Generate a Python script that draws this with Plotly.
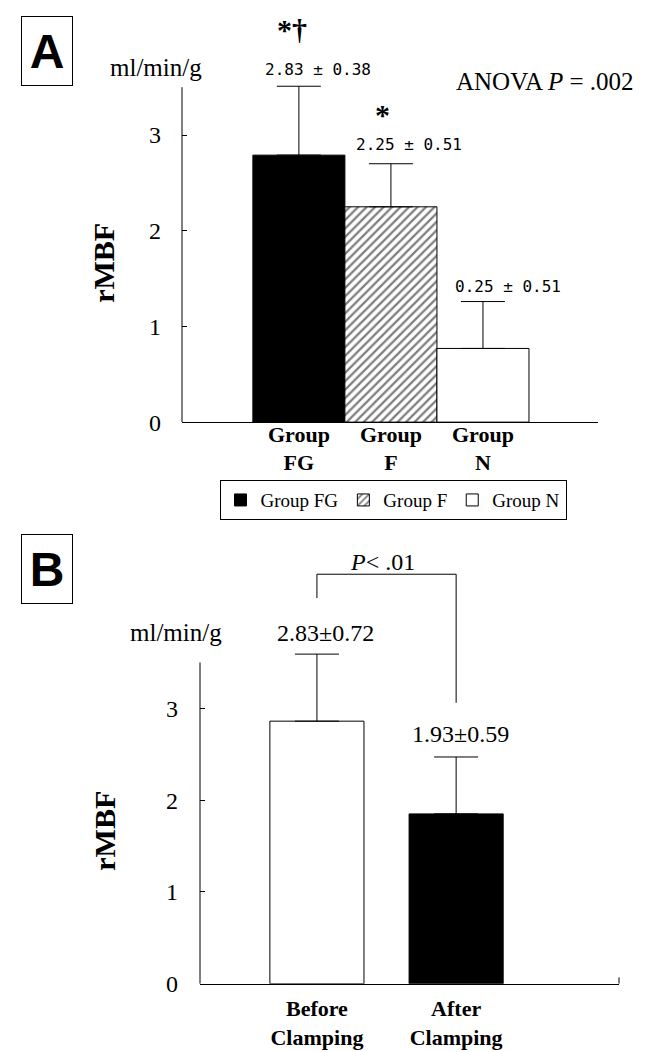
import plotly.graph_objects as go

# ---------------- data ----------------
groups_a = ["Group FG", "Group F", "Group N"]
ticks_a = ["Group<br>FG", "Group<br>F", "Group<br>N"]
mean_a = [2.79, 2.25, 0.77]
err_a = [0.72, 0.45, 0.49]
labels_a = ["2.83 ± 0.38", "2.25 ± 0.51", "0.25 ± 0.51"]
sig_a = ["*†", "*", ""]

cats_b = ["Before Clamping", "After Clamping"]
ticks_b = ["Before<br>Clamping", "After<br>Clamping"]
mean_b = [2.86, 1.85]
err_b = [0.73, 0.62]
labels_b = ["2.83±0.72", "1.93±0.59"]

yticks = [0, 1, 2, 3]

SERIF = "Liberation Serif"
W, H = 646, 1052

fig = go.Figure()

# ---------------- panel A ----------------
styles_a = [
    dict(color="black", pattern=dict(shape="")),
    dict(color="white", pattern=dict(shape="/", fgcolor="black", bgcolor="white", size=6, solidity=0.38)),
    dict(color="white", pattern=dict(shape="")),
]
xa = list(range(len(groups_a)))
for i, g in enumerate(groups_a):
    st = styles_a[i]
    fig.add_trace(go.Bar(
        x=[xa[i]], y=[mean_a[i]], name=g, width=1.0,
        marker=dict(color=st["color"], pattern=st["pattern"], line=dict(color="black", width=1)),
        error_y=dict(type="data", symmetric=False, array=[err_a[i]], arrayminus=[0],
                     color="black", thickness=1, width=22),
        xaxis="x", yaxis="y", showlegend=True,
    ))

# ---------------- panel B ----------------
xb = list(range(len(cats_b)))
fig.add_trace(go.Bar(
    x=xb, y=mean_b, width=0.676, name="B",
    marker=dict(color=["white", "black"], line=dict(color="black", width=1)),
    error_y=dict(type="data", symmetric=False, array=err_b, arrayminus=[0, 0],
                 color="black", thickness=1, width=22),
    xaxis="x2", yaxis="y2", showlegend=False,
))

axis_common = dict(showgrid=False, zeroline=False, color="black")

fig.update_layout(
    width=W, height=H, autosize=False,
    margin=dict(l=0, r=0, t=0, b=0),
    paper_bgcolor="white", plot_bgcolor="white",
    barmode="overlay",
    xaxis=dict(domain=[174 / W, 590 / W], range=[-1.27, 3.25], anchor="y",
               tickvals=xa, ticktext=ticks_a, ticks="", showline=True, linecolor="black", linewidth=1,
               tickfont=dict(family=SERIF, size=22, color="black", weight="bold"),
               ticklabelstandoff=-8, **axis_common),
    yaxis=dict(domain=[1 - 419.3 / H, 1 - 70.5 / H], range=[0, 3.6], anchor="x",
               tickvals=yticks, ticks="inside", ticklen=5, tickcolor="black", tickwidth=1,
               showline=False, tickfont=dict(family=SERIF, size=24, color="black"),
               ticklabelstandoff=20, **axis_common),
    xaxis2=dict(domain=[192 / W, 611 / W], range=[-0.84, 2.17], anchor="y2",
                tickvals=xb, ticktext=ticks_b, ticks="", showline=True, linecolor="black", linewidth=1,
                tickfont=dict(family=SERIF, size=22, color="black", weight="bold"),
                ticklabelstandoff=5, **axis_common),
    yaxis2=dict(domain=[1 - 988 / H, 1 - 551 / H], range=[0, 4.7], anchor="x2",
                tickvals=yticks, ticks="inside", ticklen=5, tickcolor="black", tickwidth=1,
                showline=False, tickfont=dict(family=SERIF, size=24, color="black"),
                ticklabelstandoff=21, **axis_common),
    legend=dict(orientation="h", x=385 / W, xanchor="center", y=1 - 478 / H, yanchor="top",
                bordercolor="black", borderwidth=1, bgcolor="white",
                font=dict(family=SERIF, size=19, color="black"), traceorder="normal",
                itemwidth=30),
    showlegend=True,
)

shapes = [
    # y axis lines (end at 3.5)
    dict(type="line", xref="x domain", yref="y", x0=0, x1=0, y0=0, y1=3.5, line=dict(color="black", width=1)),
    dict(type="line", xref="x2 domain", yref="y2", x0=0, x1=0, y0=0, y1=3.5, line=dict(color="black", width=1)),
    # small end tick on B x axis
    dict(type="line", xref="x2 domain", yref="y2", x0=1, x1=1, y0=0, y1=0.07, line=dict(color="black", width=1)),
    # significance bracket in B
    dict(type="line", xref="x2", yref="y2", x0=0, x1=0, y0=4.20, y1=4.46, line=dict(color="black", width=1)),
    dict(type="line", xref="x2", yref="y2", x0=0, x1=1, y0=4.46, y1=4.46, line=dict(color="black", width=1)),
    dict(type="line", xref="x2", yref="y2", x0=1, x1=1, y0=3.06, y1=4.46, line=dict(color="black", width=1)),
]
fig.update_layout(shapes=shapes)

ann = []
# panel letters
for letter, cy in (("A", 44), ("B", 568)):
    ann.append(dict(text=letter, xref="paper", yref="paper", x=39 / W, y=1 - cy / H,
                    showarrow=False, xanchor="center", yanchor="middle",
                    font=dict(family="Liberation Sans", size=48, color="black", weight="bold"),
                    bordercolor="black", borderwidth=1, borderpad=1, width=48, height=66))
# units
ann.append(dict(text="ml/min/g", xref="paper", yref="paper", x=148 / W, y=1 - 60 / H, showarrow=False,
                xanchor="center", yanchor="middle", font=dict(family=SERIF, size=25, color="black")))
ann.append(dict(text="ml/min/g", xref="paper", yref="paper", x=168 / W, y=1 - 632 / H, showarrow=False,
                xanchor="center", yanchor="middle", font=dict(family=SERIF, size=25, color="black")))
# ANOVA
ann.append(dict(text="ANOVA <i>P</i> = .002", xref="paper", yref="paper", x=537 / W, y=1 - 74 / H,
                showarrow=False, xanchor="center", yanchor="middle",
                font=dict(family=SERIF, size=25, color="black")))
# y titles
ann.append(dict(text="<b>rMBF</b>", xref="paper", yref="paper", x=96 / W, y=1 - 258 / H, textangle=-90,
                showarrow=False, xanchor="center", yanchor="middle",
                font=dict(family=SERIF, size=30, color="black")))
ann.append(dict(text="<b>rMBF</b>", xref="paper", yref="paper", x=97 / W, y=1 - 833 / H, textangle=-90,
                showarrow=False, xanchor="center", yanchor="middle",
                font=dict(family=SERIF, size=30, color="black")))
# value labels A
shifts_a = [(19, 17), (18, 19), (25, 15)]
for i in range(len(groups_a)):
    ann.append(dict(text=labels_a[i], xref="x", yref="y", x=xa[i], y=mean_a[i] + err_a[i],
                    xshift=shifts_a[i][0], yshift=shifts_a[i][1], showarrow=False,
                    xanchor="center", yanchor="middle",
                    font=dict(family="DejaVu Sans Mono", size=16, color="black")))
    if sig_a[i]:
        ann.append(dict(text="<b>" + sig_a[i] + "</b>", xref="x", yref="y", x=xa[i], y=mean_a[i] + err_a[i],
                        xshift=-7 if i == 0 else -8, yshift=57 if i == 0 else 49, showarrow=False,
                        xanchor="center", yanchor="middle",
                        font=dict(family=SERIF, size=30, color="black")))
# value labels B
shifts_b = [(9, 21), (4, 23)]
for i in range(len(cats_b)):
    ann.append(dict(text=labels_b[i], xref="x2", yref="y2", x=xb[i], y=mean_b[i] + err_b[i],
                    xshift=shifts_b[i][0], yshift=shifts_b[i][1], showarrow=False,
                    xanchor="center", yanchor="middle",
                    font=dict(family=SERIF, size=24, color="black")))
# P < .01
ann.append(dict(text="<i>P</i>< .01", xref="x2", yref="y2", x=0.5, y=4.46, xshift=-4, yshift=12,
                showarrow=False, xanchor="center", yanchor="middle",
                font=dict(family=SERIF, size=24, color="black")))
fig.update_layout(annotations=ann)

fig.write_html("out.html")
